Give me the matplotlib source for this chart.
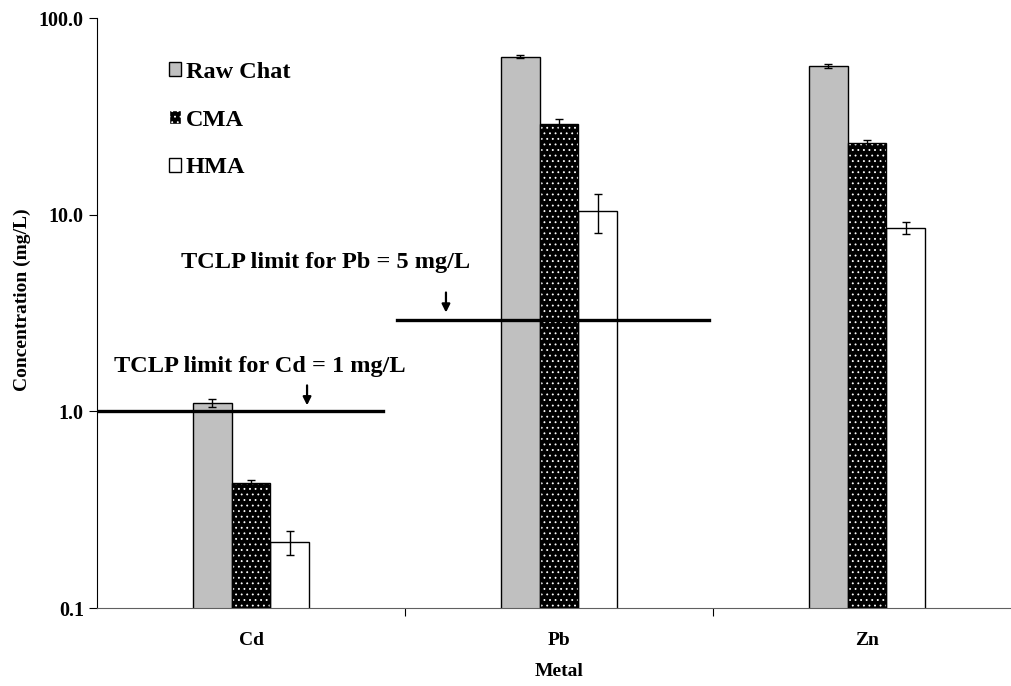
import numpy as np
import matplotlib
matplotlib.use("Agg")
import matplotlib.pyplot as plt
from matplotlib.patches import Patch

plt.rcParams.update({
    "font.family": "serif",
    "font.serif": ["Liberation Serif", "DejaVu Serif"],
    "font.weight": "bold",
    "axes.labelweight": "bold",
    "hatch.linewidth": 0.6,
})

metals = ["Cd", "Pb", "Zn"]
series = ["Raw Chat", "CMA", "HMA"]
raw_chat = [1.10, 63.5, 57.0]
raw_chat_err = [0.05, 1.0, 1.2]
cma = [0.43, 29.0, 23.2]
cma_err = [0.015, 1.6, 0.8]
hma = [0.216, 10.4, 8.6]
hma_err = [0.030, 2.3, 0.6]

tclp_cd = 1.0
tclp_pb = 2.93

fig = plt.figure(figsize=(10.12, 6.86), dpi=100)
ax = fig.add_axes([97 / 1012, 78 / 686, 924 / 1012, 590 / 686])

x = np.arange(len(metals))
w = 0.126
err_kw = dict(ecolor="black", elinewidth=1.0, capsize=3, capthick=1.0)

ax.bar(x - w, raw_chat, w, yerr=raw_chat_err, color="#c0c0c0", edgecolor="black",
       linewidth=1.0, label="Raw Chat", error_kw=err_kw, zorder=2)
# CMA: black with white dots, outline drawn separately
ax.bar(x, cma, w, color="black", edgecolor="white", hatch="...", linewidth=0, zorder=2)
ax.bar(x, cma, w, yerr=cma_err, fill=False, edgecolor="black", linewidth=1.0,
       error_kw=err_kw, zorder=3)
ax.bar(x + w, hma, w, yerr=hma_err, color="white", edgecolor="black",
       linewidth=1.0, error_kw=err_kw, zorder=2)

# TCLP limit lines
ax.plot([-0.5, 0.429], [tclp_cd, tclp_cd], color="black", lw=2.4, zorder=4)
ax.plot([0.474, 1.487], [tclp_pb, tclp_pb], color="black", lw=2.4, zorder=4)
ax.text(0.029, 1.69, "TCLP limit for Cd = 1 mg/L", ha="center", va="center", fontsize=17.5)
ax.text(0.243, 5.71, "TCLP limit for Pb = 5 mg/L", ha="center", va="center", fontsize=17.5)
arrow = dict(arrowstyle="-|>", color="black", lw=1.6, mutation_scale=12, shrinkA=0, shrinkB=0)
ax.annotate("", xy=(0.182, 1.073), xytext=(0.182, 1.355), arrowprops=arrow)
ax.annotate("", xy=(0.633, 3.18), xytext=(0.633, 4.02), arrowprops=arrow)

ax.set_yscale("log")
ax.set_ylim(0.1, 100)
ax.set_xlim(-0.5, 2.5)
ax.set_yticks([0.1, 1, 10, 100])
ax.set_yticklabels(["0.1", "1.0", "10.0", "100.0"])
ax.yaxis.set_minor_locator(matplotlib.ticker.NullLocator())
ax.set_xticks([0.5, 1.5])
ax.set_xticklabels([])
ax.set_xticks(x, minor=True)
ax.set_xticklabels(metals, minor=True)
ax.tick_params(axis="x", which="minor", length=0, pad=17, labelsize=14)
ax.tick_params(axis="x", which="major", length=6, direction="out")
ax.tick_params(axis="y", length=6, direction="out", labelsize=14.5)
for s in ["top", "right"]:
    ax.spines[s].set_visible(False)
ax.spines["bottom"].set_color("#606060")
ax.spines["bottom"].set_clip_on(False)

ax.set_xlabel("Metal", fontsize=14, va="center")
ax.set_ylabel("Concentration (mg/L)", fontsize=14, va="center")
ax.xaxis.set_label_coords(0.5, -0.108)
ax.yaxis.set_label_coords(-0.081, 0.522)

handles = [Patch(facecolor="#c0c0c0", edgecolor="black"),
           Patch(facecolor="black", edgecolor="white", hatch="..."),
           Patch(facecolor="white", edgecolor="black")]
ax.legend(handles, series, loc="upper left", bbox_to_anchor=(152 / 1012, 1 - 45 / 686),
          bbox_transform=fig.transFigure, frameon=False, fontsize=17.5,
          handlelength=0.5, handleheight=0.5, handletextpad=0.2, labelspacing=1.1,
          borderpad=0.2)

fig.savefig("out.png", dpi=100)
